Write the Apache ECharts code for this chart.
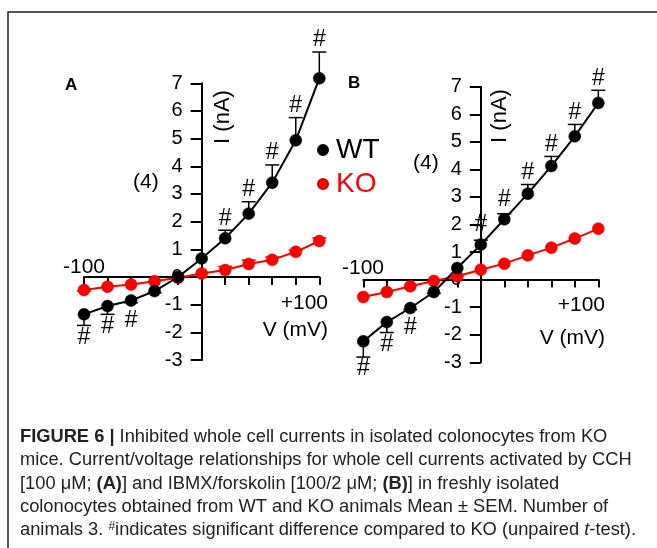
<!DOCTYPE html>
<html><head><meta charset="utf-8">
<script src="https://cdn.jsdelivr.net/npm/echarts@6/dist/echarts.min.js"></script>
<style>html,body{margin:0;padding:0;background:#fff}#c{width:657px;height:548px}</style>
</head><body><div id="c"></div>
<script>
// ---- data ----
const voltage = [-100, -80, -60, -40, -20, 0, 20, 40, 60, 80, 100];
// Panel A (CCH)
const aWT    = [-1.35, -1.05, -0.85, -0.51, 0.00, 0.67, 1.40, 2.29, 3.41, 4.94, 7.18];
const aWTerr = [0.40, 0.30, 0.08, 0.06, 0, 0, 0.29, 0.43, 0.64, 0.82, 0.95];
const aWTsig = [1, 1, 1, 0, 0, 0, 1, 1, 1, 1, 1];
const aKO    = [-0.47, -0.35, -0.27, -0.15, -0.03, 0.13, 0.25, 0.47, 0.62, 0.91, 1.30];
const aKOerr = [0.04, 0, 0, 0, 0, 0, 0.13, 0.14, 0.1, 0.07, 0.11];
// Panel B (IBMX/forskolin)
const bWT    = [-2.24, -1.54, -1.03, -0.45, 0.42, 1.27, 2.19, 3.12, 4.12, 5.20, 6.41];
const bWTerr = [0.57, 0.38, 0.06, 0.05, 0, 0.16, 0.20, 0.33, 0.35, 0.43, 0.46];
const bWTsig = [1, 1, 1, 0, 0, 1, 1, 1, 1, 1, 1];
const bKO    = [-0.63, -0.45, -0.24, -0.05, 0.12, 0.36, 0.58, 0.88, 1.16, 1.49, 1.85];
const bKOerr = [0, 0, 0, 0, 0, 0, 0, 0, 0, 0, 0];
const yMin = -3, yMax = 7, yStep = 1;
const xMin = -100, xMax = 100, xStep = 20;
const xEndLabels = ['-100', '+100'];

const FONT = '"Liberation Sans", Arial, sans-serif';
const BLACK = '#000';
const RED = '#ff0000';

const grids = [
  { left: 84, top: 83.3, width: 235.3, height: 276.7 },
  { left: 363.3, top: 86.7, width: 235, height: 275.6 }
];

function pts(ys) { return voltage.map((v, i) => [v, ys[i]]); }
function errPts(ys, es, ss) { return voltage.map((v, i) => [v, ys[i], es[i], ss ? ss[i] : 0]); }

function errRender(params, api) {
  const x = api.value(0), y = api.value(1), e = api.value(2);
  if (!e) return null;
  const dir = y >= 0 ? 1 : -1;
  const p0 = api.coord([x, y]);
  const p1 = api.coord([x, y + dir * e]);
  const color = api.visual('color');
  return { type: 'group', children: [
    { type: 'line', shape: { x1: p0[0], y1: p0[1], x2: p1[0], y2: p1[1] }, style: { stroke: color, lineWidth: 1.5 } },
    { type: 'line', shape: { x1: p1[0] - 7, y1: p1[1], x2: p1[0] + 7, y2: p1[1] }, style: { stroke: color, lineWidth: 1.5 } }
  ]};
}
function hashRender(params, api) {
  const x = api.value(0), y = api.value(1), e = api.value(2), s = api.value(3);
  if (!s) return null;
  const dir = y >= 0 ? 1 : -1;
  const p0 = api.coord([x, y]);
  const p1 = api.coord([x, y + dir * e]);
  const d = Math.max(Math.abs(p1[1] - p0[1]) + 12, 20);
  return { type: 'text', x: p0[0], y: p0[1] - dir * d,
    style: { text: '#', fill: BLACK, fontSize: 23, fontFamily: FONT, align: 'center', verticalAlign: 'middle' } };
}

function xAxisCfg(gi) {
  return { type: 'value', gridIndex: gi, min: xMin, max: xMax, interval: xStep,
    axisLine: { onZero: true, lineStyle: { color: BLACK, width: 2 } },
    axisTick: { show: true, length: 8, lineStyle: { color: BLACK, width: 2 } },
    axisLabel: { show: false }, splitLine: { show: false } };
}
function yAxisCfg(gi) {
  // place the vertical axis at V = 0 (inside the grid)
  const shift = (0 - xMin) / (xMax - xMin) * grids[gi].width;
  return { type: 'value', gridIndex: gi, min: yMin, max: yMax, interval: yStep, position: 'left', offset: -shift,
    axisLine: { onZero: false, lineStyle: { color: BLACK, width: 2 } },
    axisTick: { show: true, length: 11, lineStyle: { color: BLACK, width: 2 } },
    axisLabel: { show: true, color: BLACK, fontSize: 20, fontFamily: FONT, margin: 19 },
    splitLine: { show: false } };
}
function lineSeries(name, gi, ys, color) {
  return { name, type: 'line', xAxisIndex: gi, yAxisIndex: gi, data: pts(ys), clip: false,
    symbol: 'circle', symbolSize: 12, z: 5,
    lineStyle: { color, width: 2 }, itemStyle: { color, borderColor: color === RED ? '#c00' : '#000', borderWidth: 0.5 } };
}
function errSeries(gi, ys, es, color) {
  return { name: 'err', type: 'custom', xAxisIndex: gi, yAxisIndex: gi, data: errPts(ys, es), clip: false,
    renderItem: errRender, itemStyle: { color }, z: 3, silent: true };
}
function hashSeries(gi, ys, es, ss) {
  return { name: 'sig', type: 'custom', xAxisIndex: gi, yAxisIndex: gi, data: errPts(ys, es, ss), clip: false,
    renderItem: hashRender, z: 6, silent: true };
}
function txt(text, x, y, opt) {
  return Object.assign({ type: 'text', x, y, style: Object.assign({ text, fill: BLACK, fontSize: 21, fontFamily: FONT,
    align: 'left', verticalAlign: 'middle' }, (opt && opt.style) || {}) }, opt && opt.rot !== undefined ? { rotation: opt.rot } : {});
}

const captionLines = [
  '{b|FIGURE 6 |} Inhibited whole cell currents in isolated colonocytes from KO',
  'mice. Current/voltage relationships for whole cell currents activated by CCH',
  '[100 \u03bcM; {b|(A)}] and IBMX/forskolin [100/2 \u03bcM; {b|(B)}] in freshly isolated',
  'colonocytes obtained from WT and KO animals Mean \u00b1 SEM. Number of',
  'animals 3. {sup|#}indicates significant difference compared to KO (unpaired {i|t}-test).'
];
const CAP = 18.3;
const capRich = {
  b: { fontWeight: 'bold', fontSize: CAP, fontFamily: FONT, fill: '#222' },
  i: { fontStyle: 'italic', fontSize: CAP, fontFamily: FONT, fill: '#222' },
  sup: { fontSize: 12, fontFamily: FONT, fill: '#222', verticalAlign: 'top', padding: [0, 0, 8, 0] }
};

const chart = echarts.init(document.getElementById('c'), null, { renderer: 'canvas' });
chart.setOption({
  animation: false,
  backgroundColor: '#fff',
  grid: grids,
  xAxis: [xAxisCfg(0), xAxisCfg(1)],
  yAxis: [yAxisCfg(0), yAxisCfg(1)],
  legend: {
    orient: 'vertical', left: 312, top: 131, icon: 'circle', itemWidth: 10, itemHeight: 10, itemGap: 6,
    textStyle: { fontSize: 28, fontFamily: FONT, lineHeight: 28, padding: [0, 0, 0, 3] },
    data: [ { name: 'WT', textStyle: { color: BLACK } }, { name: 'KO', textStyle: { color: RED } } ],
    selectedMode: false
  },
  series: [
    errSeries(0, aKO, aKOerr, RED),
    errSeries(0, aWT, aWTerr, BLACK),
    lineSeries('KO', 0, aKO, RED),
    lineSeries('WT', 0, aWT, BLACK),
    hashSeries(0, aWT, aWTerr, aWTsig),
    errSeries(1, bKO, bKOerr, RED),
    errSeries(1, bWT, bWTerr, BLACK),
    lineSeries('KO', 1, bKO, RED),
    lineSeries('WT', 1, bWT, BLACK),
    hashSeries(1, bWT, bWTerr, bWTsig)
  ],
  graphic: [
    { type: 'polyline', shape: { points: [[8, 548], [8, 12], [657, 12]] }, style: { stroke: '#222', lineWidth: 1.5, fill: null } },
    txt('A', 65, 85, { style: { fontWeight: 'bold', fontSize: 17 } }),
    txt('B', 348, 83, { style: { fontWeight: 'bold', fontSize: 17 } }),
    txt('(4)', 133, 182),
    txt('(4)', 413, 163),
    txt('I (nA)', 223, 117, { rot: Math.PI / 2, style: { align: 'center', fontSize: 22 } }),
    txt('I (nA)', 500, 116, { rot: Math.PI / 2, style: { align: 'center', fontSize: 22 } }),
    txt(xEndLabels[0], 63, 267),
    txt(xEndLabels[0], 342, 268),
    txt(xEndLabels[1], 328, 303, { style: { align: 'right' } }),
    txt(xEndLabels[1], 605, 305, { style: { align: 'right' } }),
    txt('V (mV)', 328, 330, { style: { align: 'right' } }),
    txt('V (mV)', 605, 338, { style: { align: 'right' } })
  ].concat(captionLines.map((line, i) => ({
    type: 'text', x: 20, y: 437 + i * 23.3,
    style: { text: line, fill: '#222', fontSize: CAP, fontFamily: FONT, align: 'left', verticalAlign: 'middle', rich: capRich }
  })))
});
</script>
</body></html>
